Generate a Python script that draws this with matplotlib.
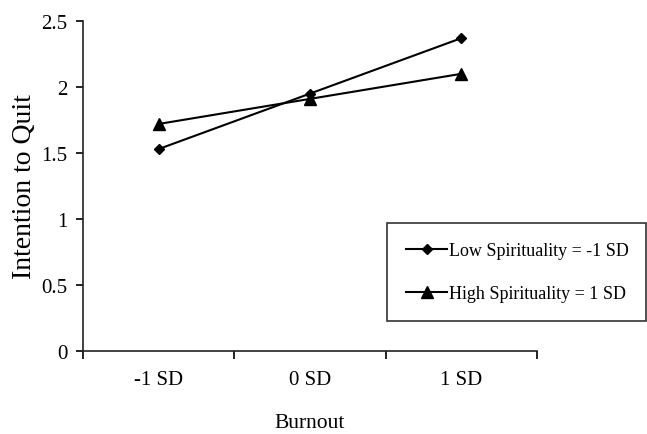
import matplotlib
matplotlib.use("Agg")
import matplotlib.pyplot as plt

categories = ["-1 SD", "0 SD", "1 SD"]
low_spirituality = [1.53, 1.95, 2.37]
high_spirituality = [1.72, 1.91, 2.10]
series_labels = ["Low Spirituality = -1 SD", "High Spirituality = 1 SD"]
y_ticks = [0, 0.5, 1, 1.5, 2, 2.5]
y_tick_labels = ["0", "0.5", "1", "1.5", "2", "2.5"]

plt.rcParams['font.family'] = ['Liberation Serif', 'DejaVu Serif']

fig = plt.figure(figsize=(6.47, 4.35), dpi=100)
W, H = 647, 435
ax = fig.add_axes([83 / W, (H - 352) / H, (537 - 83) / W, (352 - 22) / H])

x = list(range(len(categories)))
l1, = ax.plot(x, low_spirituality, color='black', lw=1.5, marker='D', ms=5,
              label=series_labels[0])
l2, = ax.plot(x, high_spirituality, color='black', lw=1.5, marker='^', ms=8,
              label=series_labels[1])

ax.set_xlim(-0.5, len(categories) - 0.5)
ax.set_ylim(0, 2.5)
ax.spines['top'].set_visible(False)
ax.spines['right'].set_visible(False)
for s in ['left', 'bottom']:
    ax.spines[s].set_linewidth(1.2)
    ax.spines[s].set_color('#222222')

ax.set_xticks([i - 0.5 for i in range(len(categories) + 1)])
ax.set_xticklabels([])
ax.set_xticks(x, minor=True)
ax.set_xticklabels(categories, minor=True, fontsize=15)
ax.tick_params(axis='x', which='major', length=6, width=1.2, direction='out')
ax.tick_params(axis='x', which='minor', length=0, pad=14)
ax.set_yticks(y_ticks)
ax.set_yticklabels(y_tick_labels, fontsize=15)
ax.tick_params(axis='y', length=5, width=1.2, direction='out', pad=6)

ax.set_ylabel("Intention to Quit", fontsize=20, labelpad=3)
ax.set_xlabel("Burnout", fontsize=15.5, labelpad=17)

leg = fig.legend(handles=[l1, l2], loc='upper left',
                 bbox_to_anchor=(387 / W, (H - 320) / H, (W - 1 - 387) / W, 96 / H),
                 mode='expand', frameon=True, fancybox=False, fontsize=13,
                 handlelength=2.3, handletextpad=0.1, labelspacing=1.45,
                 borderpad=1.05, borderaxespad=0)
leg.get_frame().set_edgecolor('black')
leg.get_frame().set_linewidth(1.2)

fig.savefig("out.png", dpi=100)
